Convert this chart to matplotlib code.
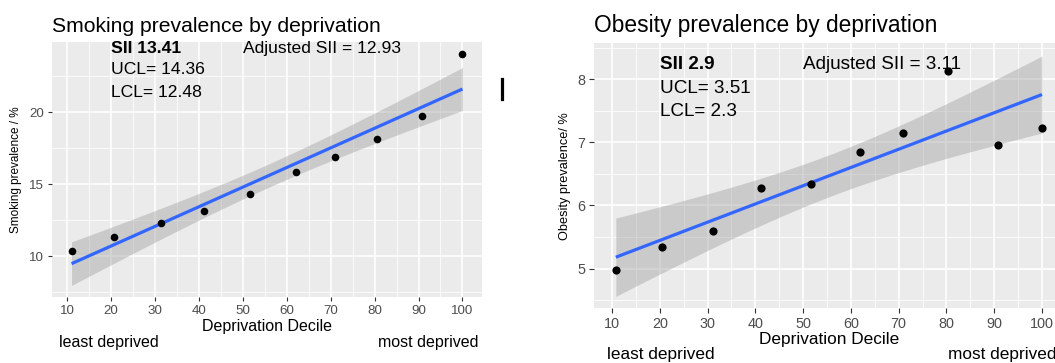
import numpy as np
import matplotlib
matplotlib.use("Agg")
import matplotlib.pyplot as plt
from matplotlib.lines import Line2D

# ---------------- data ----------------
smoke_x = [11.0, 20.6, 31.3, 41.1, 51.6, 62.0, 70.9, 80.5, 90.7, 100.0]
smoke_y = [10.39, 11.36, 12.29, 13.13, 14.30, 15.83, 16.90, 18.13, 19.74, 24.07]
obese_x = [10.8, 20.4, 31.2, 41.1, 51.6, 62.0, 70.9, 80.4, 90.8, 100.0]
obese_y = [4.98, 5.34, 5.60, 6.27, 6.34, 6.84, 7.15, 8.13, 6.96, 7.23]

x_ticks = [10, 20, 30, 40, 50, 60, 70, 80, 90, 100]
smoke_yticks = [10, 15, 20]
obese_yticks = [5, 6, 7, 8]

smoke_title = "Smoking prevalence by deprivation"
obese_title = "Obesity prevalence by deprivation"
smoke_ylabel = "Smoking prevalence / %"
obese_ylabel = "Obesity prevalence/ %"
xlabel = "Deprivation Decile"

smoke_stats = {"sii": "SII 13.41", "ucl": "UCL= 14.36", "lcl": "LCL= 12.48",
               "adj": "Adjusted SII = 12.93"}
obese_stats = {"sii": "SII 2.9", "ucl": "UCL= 3.51", "lcl": "LCL= 2.3",
               "adj": "Adjusted SII = 3.11"}

T975_DF8 = 2.306  # t quantile for 95% CI, n-2 = 8 df

FONT = "Liberation Sans"
plt.rcParams["font.family"] = [FONT, "DejaVu Sans"]

W, H = 1055, 363
fig = plt.figure(figsize=(W / 100, H / 100), dpi=100)


def px_axes(x0, x1, y0, y1):
    return fig.add_axes([x0 / W, 1 - y1 / H, (x1 - x0) / W, (y1 - y0) / H])


def smooth(ax, x, y):
    x = np.asarray(x, float)
    y = np.asarray(y, float)
    b, a = np.polyfit(x, y, 1)
    xs = np.linspace(x.min(), x.max(), 200)
    fit = a + b * xs
    resid = y - (a + b * x)
    s = np.sqrt(np.sum(resid ** 2) / (len(x) - 2))
    sxx = np.sum((x - x.mean()) ** 2)
    se = s * np.sqrt(1 / len(x) + (xs - x.mean()) ** 2 / sxx)
    ax.fill_between(xs, fit - T975_DF8 * se, fit + T975_DF8 * se,
                    color="#999999", alpha=0.4, lw=0, zorder=2)
    ax.plot(xs, fit, color="#3366FF", lw=2.3, zorder=3, solid_capstyle="butt")


def style(ax, xlim, ylim, yticks, scale):
    ax.set_facecolor("#EBEBEB")
    for sp in ax.spines.values():
        sp.set_visible(False)
    ax.set_xlim(*xlim)
    ax.set_ylim(*ylim)
    ax.set_xticks(x_ticks)
    ax.set_yticks(yticks)
    xm = [v + 5 for v in x_ticks[:-1]] + [5]
    ax.set_xticks([v for v in xm if xlim[0] < v < xlim[1]], minor=True)
    step = yticks[1] - yticks[0]
    ym = np.arange(yticks[0] - step / 2, ylim[1], step)
    ax.set_yticks([v for v in ym if ylim[0] < v < ylim[1]], minor=True)
    ax.grid(which="major", color="white", lw=1.1 * scale)
    ax.grid(which="minor", color="white", lw=0.55 * scale)
    ax.set_axisbelow(True)
    ax.tick_params(which="major", length=3.2 * scale, width=0.8, color="#333333",
                   labelcolor="#4D4D4D", labelsize=9.6 * scale, pad=2.5 * scale)
    ax.tick_params(which="minor", length=0)


def panel(box, x, y, xlim, ylim, yticks, title, ylabel, stats, txt_y, scale,
          title_pad, xl_y, ld_y, yl_x, most_kw):
    ax = px_axes(*box)
    style(ax, xlim, ylim, yticks, scale)
    smooth(ax, x, y)
    ax.scatter(x, y, s=30 * scale ** 2, color="black", zorder=4, lw=0)
    ax.set_title(title, loc="left", fontsize=15.2 * scale, pad=title_pad,
                 color="black")
    ax.set_xlabel(xlabel, fontsize=11.5 * scale, color="black")
    ax.xaxis.set_label_coords(0.5, xl_y)
    ax.xaxis.label.set_va("center")
    ax.set_ylabel(ylabel, fontsize=8.5 * scale, color="black")
    ax.yaxis.set_label_coords(yl_x, 0.5)
    ax.yaxis.label.set_va("center")
    fs = 12.6 * scale
    ax.text(20, txt_y[0], stats["sii"], fontsize=fs, fontweight="bold",
            va="center", ha="left", zorder=5)
    ax.text(50, txt_y[0], stats["adj"], fontsize=fs, va="center", ha="left",
            zorder=5)
    ax.text(20, txt_y[1], stats["ucl"], fontsize=fs, va="center", ha="left",
            zorder=5)
    ax.text(20, txt_y[2], stats["lcl"], fontsize=fs, va="center", ha="left",
            zorder=5)
    ax.text(0.0 + most_kw["least_x"], ld_y, "least deprived", transform=ax.transAxes,
            fontsize=11.5 * scale, va="center", ha="left", clip_on=False)
    ax.text(most_kw["x"], ld_y, "most deprived", transform=ax.transAxes,
            fontsize=11.5 * scale, va="center", ha=most_kw["ha"], clip_on=False)
    return ax


panel((52, 482, 42, 297), smoke_x, smoke_y, (6.55, 104.45), (7.17, 24.88),
      smoke_yticks, smoke_title, smoke_ylabel, smoke_stats,
      (24.4, 22.94, 21.34), 1.0, 7.4, -0.114, -0.1765, -0.084,
      {"least_x": 0.016, "x": 0.993, "ha": "right"})

panel((594, 1063.5, 43.3, 308.3), obese_x, obese_y, (6.23, 104.5), (4.37, 8.57),
      obese_yticks, obese_title, obese_ylabel, obese_stats,
      (8.23, 7.86, 7.49), 1.08, 8.4, -0.116, -0.176, -0.062,
      {"least_x": 0.027, "x": 0.755, "ha": "left"})

# stray cursor mark in the reference image
fig.add_artist(Line2D([501.5 / W, 501.5 / W], [1 - 78.5 / H, 1 - 99 / H],
                      color="black", lw=2.3))

fig.savefig("out.png", dpi=100)
